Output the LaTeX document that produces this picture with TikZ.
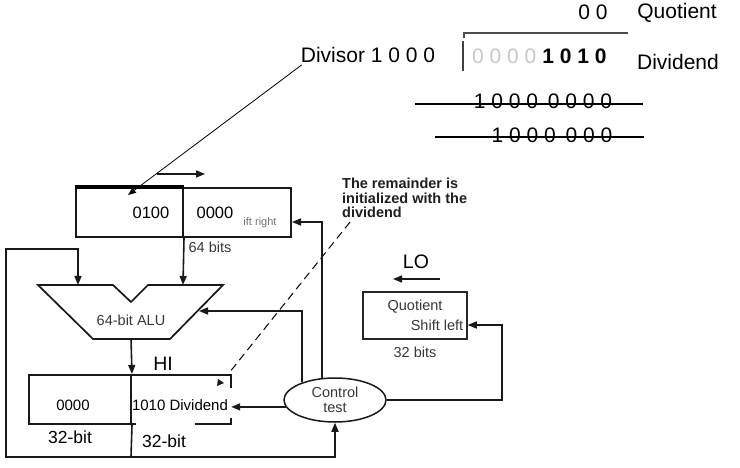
\documentclass[tikz,border=0pt]{standalone}
\usepackage{fontspec}
\setmainfont{Liberation Sans}
\usetikzlibrary{arrows.meta,shapes.geometric,calc}
\newcommand{\fs}[1]{\fontsize{#1}{#1}\selectfont}
\begin{document}
\begin{tikzpicture}[x=1pt,y=-1pt,
  wire/.style={line width=1.6pt, draw=black!90},
  arr/.style={wire,-{Triangle[length=9pt,width=7pt]}},
  reg/.style={draw=black!90, line width=2pt, minimum width=#1, minimum height=49pt, inner sep=0pt},
  reg/.default=100pt,
  lbl/.style={font=\fs{14.5}, text=black!78, inner sep=0pt},
  big/.style={font=\fs{21}, inner sep=0pt},
]
\useasboundingbox (0,0) rectangle (740,468);

% ---------- top: long division ----------
\node[big] (q00) at (593,12) {0\hspace{6pt}0};
\node[big] (qlab) at (677,13) {Quotient};
\draw[line width=1.3pt, draw=black!70] (464,38) -- (464,33) -- (628,33);
\draw[line width=2.2pt, draw=black!75] (463,41) -- (463,71);
\node[big] (divisor) at (368,55) {Divisor 1 0 0 0};
\node[big, anchor=west] (dvd) at (472,56) {{\color{black!22}0 0 0 0} \textbf{1 0 1 0}};
\node[big] (dlab) at (678,62) {Dividend};
\node[big] (s1) at (543,101) {1 0 0 0\hspace{4pt} 0 0 0 0};
\draw[line width=1.5pt] (415,104) -- (643,104);
\node[big] (s2) at (552,135) {1 0 0 0\hspace{4pt} 0 0 0};
\draw[line width=1.5pt] (435,137) -- (644,137);

% ---------- divisor register ----------
\node[reg=107pt] (divL) at (129.5,212.5) {};
\node[reg=108pt] (divR) at (237,212.5) {};
\draw[line width=3.4pt] (divL.north west) -- (divL.north east);
\node[font=\fs{16.5}, inner sep=0pt] (t0100) at (151,213) {0100};
\node[font=\fs{16.5}, inner sep=0pt] (t0000) at (215,213) {0000};
\node[font=\fs{11}, text=black!55, inner sep=0pt] (sr) at (260,223) {ift right};
\node[lbl] (b64) at (210,247) {64 bits};
\coordinate (shA) at (157,174);
\coordinate (shB) at (205,174);
\draw[arr] (shA) -- (shB);
\coordinate (divTip) at (128,195);
\draw[line width=0.8pt, -{Triangle[length=8pt,width=6pt]}] ($(divisor.south west)+(1,2)$) -- (divTip);

% ---------- ALU ----------
\draw[line width=1.7pt, draw=black!90] (38,285) -- (113,285) -- (131,302) -- (148,285) -- (223,285) -- (170,339) -- (93,339) -- cycle;
\coordinate (aluInL) at (78,285);
\coordinate (aluInR) at (183,285);
\coordinate (aluOut) at (131,339);
\coordinate (aluSide) at (199,311);
\node[lbl] (alulbl) at (131,320) {64-bit ALU};

% ---------- remainder register ----------
\node[reg=102pt] (remL) at (80,399.5) {};
\node[minimum width=100pt, minimum height=49pt, inner sep=0pt] (remR) at (181,399.5) {};
\draw[line width=2pt, draw=black!90] (remR.north west) -- (remR.north east) -- ++(0,13);
\draw[line width=2pt, draw=black!90] ($(remR.south east)+(0,-6)$) -- (remR.south east) -- ++(-36,0);
\draw[line width=2pt, draw=black!90] (remR.south west) -- ++(5,0);
\node[font=\fs{19.5}, inner sep=0pt] (hi) at (163,364) {HI};
\node[font=\fs{15}, inner sep=0pt] (r0000) at (73,405) {0000};
\node[font=\fs{15}, inner sep=0pt] (r1010) at (180,405) {1010 Dividend};
\node[font=\fs{17.5}, inner sep=0pt] (b32a) at (70,437) {32-bit};
\node[font=\fs{17.5}, inner sep=0pt] (b32b) at (164,441) {32-bit};
\fill[black!90] (218,379) -- (224,383) -- (217,386) -- cycle;

% ---------- quotient register ----------
\node[draw=black!85, line width=1.5pt, minimum width=104pt, minimum height=47pt, inner sep=0pt] (quot) at (415,315.5) {};
\node[lbl] (qt) at (415,307) {Quotient};
\node[lbl] (ql) at (437,325) {Shift left};
\node[lbl] (b32q) at (415,352) {32 bits};
\node[font=\fs{19.5}, inner sep=0pt] (lo) at (416,262) {LO};
\coordinate (loA) at (440,279);
\coordinate (loB) at (393,279);
\draw[arr] (loA) -- (loB);

% ---------- control ----------
\node[draw=black!90, line width=1.5pt, ellipse, minimum width=102pt, minimum height=44pt, inner sep=0pt, align=center, font=\fs{14.5}, text=black!78] (ctrl) at (335,400) {Control\\[1pt]test};

% ---------- note ----------
\node[anchor=north west, align=left, inner sep=0pt, font=\fs{14.5}\bfseries, text=black!88] (note) at (342,178) {\fontsize{14.5}{17.5}\selectfont The remainder is\\initialized with the\\dividend};
\coordinate (dashB) at (229,373);
\draw[line width=1pt, dashed, dash pattern=on 8pt off 5pt] ($(note.south west)+(8,4)$) -- (dashB);

% ---------- connectors ----------
\draw[arr] (divL.south east) -- (aluInR);
\draw[arr] (aluOut) -- (remL.north east);
\coordinate (loopA) at (131,457);
\coordinate (loopB) at (6,457);
\coordinate (loopC) at (6,249);
\draw[arr] (remL.south east) -- (loopA) -- (loopB) -- (loopC) -| (aluInL);
\draw[arr] (loopA) -| (ctrl.south);
\draw[arr] (ctrl.188) -- (ctrl.188 -| remR.east);
\draw[arr] (ctrl.152) |- (aluSide);
\draw[arr] (ctrl.121) |- ($(divR.east)+(0,9.5)$);
\draw[arr] (ctrl.east) -- (502,400) |- ($(quot.east)+(0,9.5)$);
\end{tikzpicture}
\end{document}
